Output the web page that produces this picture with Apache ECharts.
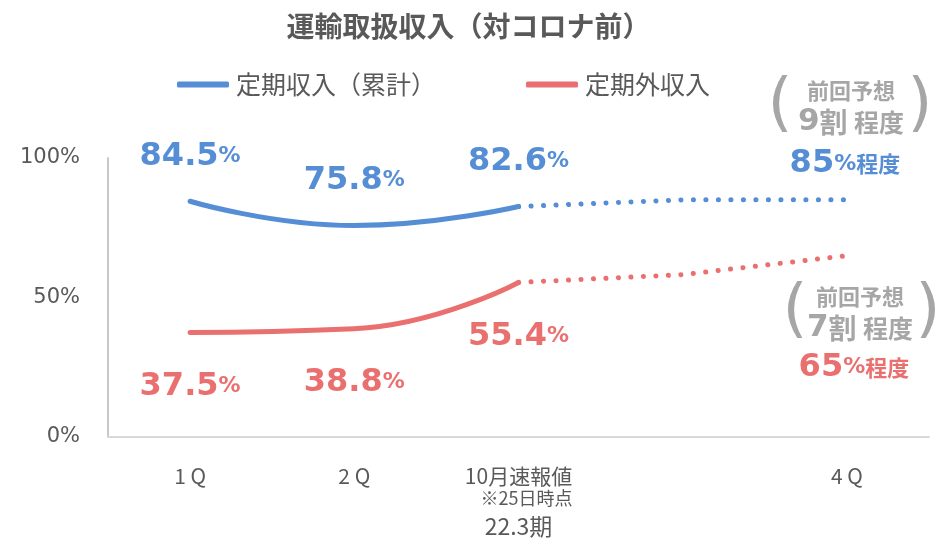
<!DOCTYPE html>
<html>
<head>
<meta charset="utf-8">
<script src="https://cdn.jsdelivr.net/npm/echarts@6/dist/echarts.min.js"></script>
<style>
    html, body { margin: 0; padding: 0; background: #fff; }
    #chartDiv { width: 937px; height: 544px; }
</style>
</head>
<body>
<div id="chartDiv"></div>
<script>
// カテゴリ（4番目は3Q相当、ラベルなし）
var categories = ['1 Q', '2 Q', '10月速報値\n※25日時点', '', '4 Q'];
var yTicks = [0, 50, 100];

// 定期収入（累計）
var regularActual = [84.5, 75.8, 82.6, '-', '-'];
var regularForecast = ['-', '-', 82.6, 85, 85];
// 定期外収入
var irregularActual = [37.5, 38.8, 55.4, '-', '-'];
var irregularForecast = ['-', '-', 55.4, 58.2, 65];

// 前回予想
var prevRegular = '9割';
var prevIrregular = '7割';

var BLUE = '#558ed5';
var RED = '#ea7070';
var GRAY = '#a6a6a6';
var TEXT = '#595959';
var NUM_FONT = 'DejaVu Sans';
var JP_FONT = '"Noto Sans CJK JP", "DejaVu Sans", sans-serif';

function pctRich(color) {
    return {
        n: { fontFamily: NUM_FONT, fontSize: 32, fontWeight: 'bold', color: color },
        p: { fontFamily: NUM_FONT, fontSize: 22, fontWeight: 'bold', color: color },
        j: { fontFamily: JP_FONT, fontSize: 22, fontWeight: 'bold', color: color }
    };
}

// 実績ラベル
function actualLabel(color, pos, dist) {
    return {
        show: true,
        position: pos,
        distance: dist,
        formatter: function (p) {
            return '{n|' + p.value.toFixed(1) + '}{p|%}';
        },
        rich: pctRich(color)
    };
}

// 見込み（点線）：4Q だけラベル
function forecastData(values, color, pos, dist, offset) {
    return values.map(function (v, i) {
        if (i !== values.length - 1) return v;
        return {
            value: v,
            label: {
                show: true,
                position: pos,
                distance: dist,
                offset: offset,
                formatter: function (p) {
                    return '{n|' + p.value + '}{p|%}{j|程度}';
                },
                rich: pctRich(color)
            }
        };
    });
}

// 前回予想の注記
function prevNote(cx, cy, text, lx, rx) {
    return [
        {
            type: 'text', x: cx, y: cy, silent: true,
            style: {
                text: '{a|前回予想}\n{b|' + text.charAt(0) + '}{c|' + text.slice(1) + '}  {d|程度}',
                align: 'center', verticalAlign: 'middle',
                rich: {
                    a: { fontFamily: JP_FONT, fontSize: 22, fontWeight: 'bold', fill: GRAY, lineHeight: 30, align: 'center' },
                    b: { fontFamily: NUM_FONT, fontSize: 31, fontWeight: 'bold', fill: GRAY, lineHeight: 32 },
                    c: { fontFamily: JP_FONT, fontSize: 28, fontWeight: 'bold', fill: GRAY, lineHeight: 32 },
                    d: { fontFamily: JP_FONT, fontSize: 25, fontWeight: 'bold', fill: GRAY, lineHeight: 32 }
                }
            }
        },
        {
            type: 'text', x: lx, y: cy, silent: true,
            style: { text: '(', fill: GRAY, fontFamily: NUM_FONT, fontSize: 64, align: 'center', verticalAlign: 'middle' }
        },
        {
            type: 'text', x: rx, y: cy, silent: true,
            style: { text: ')', fill: GRAY, fontFamily: NUM_FONT, fontSize: 64, align: 'center', verticalAlign: 'middle' }
        }
    ];
}

var dotStyle = function (color) {
    return { color: color, width: 5, type: [0.1, 12.4], cap: 'round' };
};

var option = {
    animation: false,
    backgroundColor: '#fff',
    title: {
        text: '運輸取扱収入（対コロナ前）',
        left: 'center',
        top: 7,
        textStyle: { fontFamily: JP_FONT, fontSize: 28, fontWeight: 'bold', color: TEXT }
    },
    legend: {
        left: 172,
        top: 67,
        itemGap: 90,
        itemWidth: 52,
        itemHeight: 6,
        icon: 'roundRect',
        data: ['定期収入（累計）', '定期外収入'],
        textStyle: { fontFamily: JP_FONT, fontSize: 25, color: TEXT, padding: [0, 0, 0, 2] }
    },
    grid: { left: 108, right: 8, top: 158, bottom: 107 },
    xAxis: {
        type: 'category',
        data: categories,
        boundaryGap: true,
        name: '22.3期',
        nameLocation: 'middle',
        nameGap: 78,
        nameTextStyle: { fontFamily: JP_FONT, fontSize: 23, color: TEXT },
        axisLine: { lineStyle: { color: '#d9d9d9', width: 2 } },
        axisTick: { show: false },
        axisLabel: {
            interval: 0,
            margin: 28,
            color: TEXT,
            fontFamily: JP_FONT,
            fontSize: 21,
            lineHeight: 22,
            formatter: function (v) {
                var parts = v.split('\n');
                if (parts.length < 2) return v;
                return '{a|' + parts[0] + '}\n{b|' + parts[1] + '}';
            },
            rich: {
                a: { fontFamily: JP_FONT, fontSize: 21, color: TEXT, lineHeight: 22 },
                b: { fontFamily: JP_FONT, fontSize: 18, color: TEXT, lineHeight: 22, padding: [0, 0, 0, 16] }
            }
        }
    },
    yAxis: {
        type: 'value',
        min: yTicks[0],
        max: yTicks[yTicks.length - 1],
        interval: yTicks[1] - yTicks[0],
        splitLine: { show: false },
        axisTick: { show: false },
        axisLine: { show: true, lineStyle: { color: '#c8c8c8', width: 2 } },
        axisLabel: { margin: 28, color: TEXT, fontFamily: NUM_FONT, fontSize: 21, formatter: '{value}%' }
    },
    graphic: prevNote(851, 107, prevRegular, 780, 920).concat(prevNote(860, 313, prevIrregular, 795, 928)),
    series: [
        {
            name: '定期収入（累計）',
            type: 'line',
            smooth: 0.5,
            symbol: 'circle',
            symbolSize: 0,
            color: BLUE,
            lineStyle: { color: BLUE, width: 5, cap: 'round' },
            label: actualLabel(BLUE, 'top', 29),
            data: regularActual
        },
        {
            name: '定期収入（累計）',
            type: 'line',
            symbol: 'circle',
            symbolSize: 0,
            color: BLUE,
            lineStyle: dotStyle(BLUE),
            data: forecastData(regularForecast, BLUE, 'top', 20, [-2, 0])
        },
        {
            name: '定期外収入',
            type: 'line',
            smooth: 0.5,
            symbol: 'circle',
            symbolSize: 0,
            color: RED,
            lineStyle: { color: RED, width: 5, cap: 'round' },
            label: actualLabel(RED, 'bottom', 38),
            data: irregularActual
        },
        {
            name: '定期外収入',
            type: 'line',
            symbol: 'circle',
            symbolSize: 0,
            color: RED,
            lineStyle: dotStyle(RED),
            data: forecastData(irregularForecast, RED, 'bottom', 96, [7, 0])
        }
    ]
};

var chart = echarts.init(document.getElementById('chartDiv'));
chart.setOption(option);
</script>
</body>
</html>
